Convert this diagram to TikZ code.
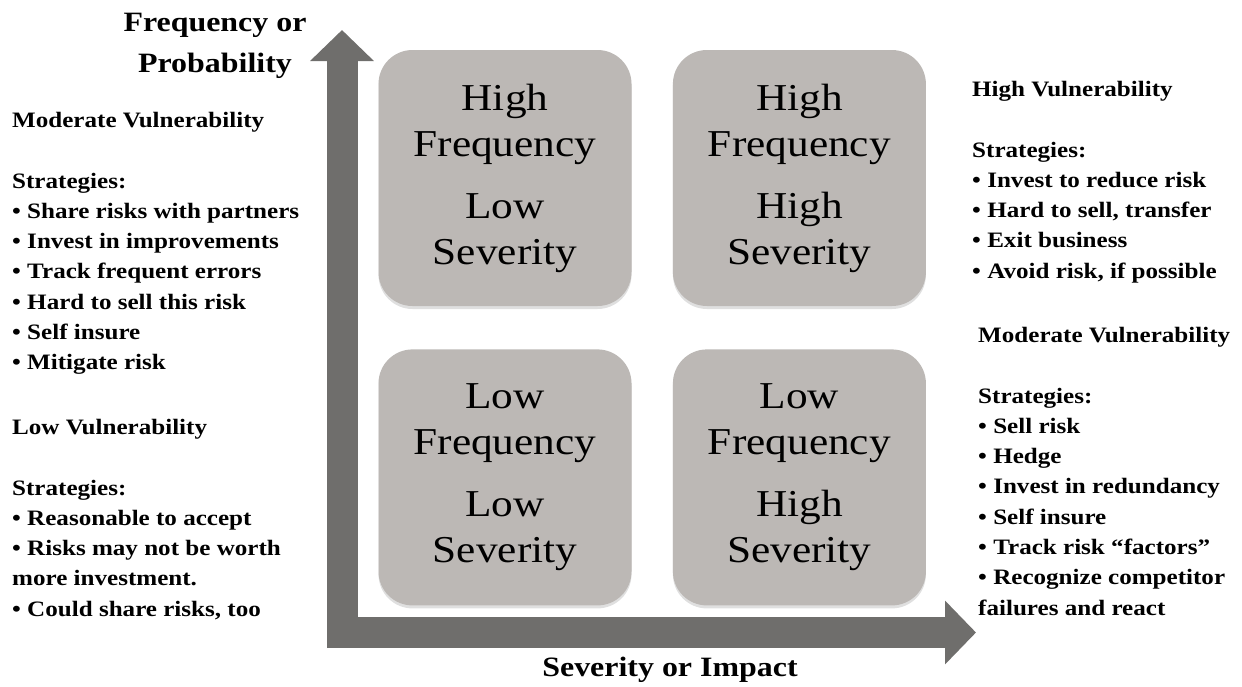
\documentclass[tikz,border=0pt]{standalone}
\usepackage{fontspec}
\setmainfont[FakeStretch=1.14]{Liberation Serif}
\usetikzlibrary{arrows.meta,positioning,shadows}
\definecolor{axiscolor}{RGB}{111,110,108}
\definecolor{boxcolor}{RGB}{188,184,181}

\begin{document}
\begin{tikzpicture}[x=1pt,y=-1pt,
    quadbox/.style={rectangle, rounded corners=34pt, fill=boxcolor,
        minimum width=253pt, minimum height=256pt, align=center,
        font={\fontsize{38}{46}\selectfont},
        drop shadow={shadow xshift=0pt, shadow yshift=-3pt, opacity=0.25}},
    sidetext/.style={anchor=north west, inner sep=0pt, align=left,
        font={\bfseries\fontsize{22}{30.3}\selectfont}},
    axislabel/.style={inner sep=0pt, align=center,
        font={\bfseries\fontsize{28}{41}\selectfont}},
    axis/.style={draw=axiscolor, line width=31pt,
        -{Triangle[width=62pt,length=31pt]}}
]
\useasboundingbox (0,0) rectangle (1242,686);

% axes
\coordinate (yaxis-start) at (342,648);
\coordinate (yaxis-end) at (342,30);
\coordinate (xaxis-start) at (327,632.5);
\coordinate (xaxis-end) at (976,632.5);
\draw[axis] (yaxis-start) -- (yaxis-end);
\draw[axis] (xaxis-start) -- (xaxis-end);

\node[axislabel, anchor=north] (ylabel) at (215,13) {Frequency or\\Probability};
\node[axislabel, anchor=north] (xlabel) at (670,657) {Severity or Impact};

% quadrants
\node[quadbox] (hflo) at (505,178) {High\\Frequency\\[16pt]Low\\Severity};
\node[quadbox, right=41pt of hflo] (hfhi) {High\\Frequency\\[16pt]High\\Severity};
\node[quadbox, below=43pt of hflo] (lflo) {Low\\Frequency\\[16pt]Low\\Severity};
\node[quadbox, below=43pt of hfhi] (lfhi) {Low\\Frequency\\[16pt]High\\Severity};

% strategies, left
\node[sidetext] (modleft) at (12,112) {Moderate Vulnerability\\[30.3pt]
    Strategies:\\
    • Share risks with partners\\
    • Invest in improvements\\
    • Track frequent errors\\
    • Hard to sell this risk\\
    • Self insure\\
    • Mitigate risk};
\node[sidetext] (lowleft) at (12,419) {Low Vulnerability\\[30.3pt]
    Strategies:\\
    • Reasonable to accept\\
    • Risks may not be worth\\
    more investment.\\
    • Could share risks, too};

% strategies, right
\node[sidetext] (highright) at (972,81) {High Vulnerability\\[30.3pt]
    Strategies:\\
    • Invest to reduce risk\\
    • Hard to sell, transfer\\
    • Exit business\\
    • Avoid risk, if possible};
\node[sidetext] (modright) at (978,327) {Moderate Vulnerability\\[30.3pt]
    Strategies:\\
    • Sell risk\\
    • Hedge\\
    • Invest in redundancy\\
    • Self insure\\
    • Track risk “factors”\\
    • Recognize competitor\\
    failures and react};
\end{tikzpicture}
\end{document}
